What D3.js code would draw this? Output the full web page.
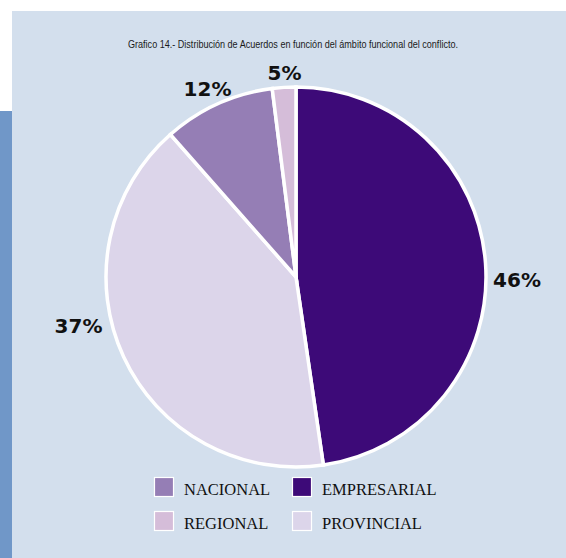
<!DOCTYPE html>
<html>
<head>
<meta charset="utf-8">
<script src="https://cdn.jsdelivr.net/npm/d3@7"></script>
<style>
  html, body { margin: 0; padding: 0; background: #ffffff; }
  svg { display: block; }
</style>
</head>
<body>
<svg id="chart" width="566" height="558"></svg>
<script>
// ---- data ----
const title = "Grafico 14.- Distribución de Acuerdos en función del ámbito funcional del conflicto.";
const categories = ["EMPRESARIAL", "PROVINCIAL", "NACIONAL", "REGIONAL"];
const values = [47.7, 40.8, 9.5, 2.0];          // slice sizes as drawn
const valueLabels = ["46%", "37%", "12%", "5%"]; // printed labels
const colors = ["#3d0a78", "#dcd5ea", "#957eb5", "#d5bdd9"];
const legendOrder = ["NACIONAL", "EMPRESARIAL", "REGIONAL", "PROVINCIAL"];

// ---- layout ----
const svg = d3.select("#chart");
const W = 566, H = 558;
const cx = 296, cy = 277, R = 190;

// panel + left strip
svg.append("rect").attr("x", 12).attr("y", 11).attr("width", W - 12).attr("height", H - 11).attr("fill", "#d3dfed");
svg.append("rect").attr("x", 0).attr("y", 111).attr("width", 12).attr("height", H - 111).attr("fill", "#7097c8");

// title
svg.append("text")
  .attr("x", 293).attr("y", 48)
  .attr("text-anchor", "middle")
  .attr("font-family", "'Liberation Sans Narrow', 'Arial Narrow', 'Liberation Sans', sans-serif")
  .attr("font-size", 10)
  .attr("textLength", 330).attr("lengthAdjust", "spacingAndGlyphs")
  .attr("fill", "#1a1a1a")
  .text(title);

const color = d3.scaleOrdinal().domain(categories).range(colors);
const pie = d3.pie().sort(null).value(d => d.v);
const arc = d3.arc().innerRadius(0).outerRadius(R);
const data = categories.map((c, i) => ({ c, v: values[i], label: valueLabels[i] }));
const arcs = pie(data);

const g = svg.append("g").attr("transform", `translate(${cx},${cy})`);
g.selectAll("path").data(arcs).join("path")
  .attr("d", arc)
  .attr("fill", d => color(d.data.c))
  .attr("stroke", "#ffffff")
  .attr("stroke-width", 3.5)
  .attr("stroke-linejoin", "miter");

// percentage labels (offsets relative to pie centre)
const labelOffsets = [[221, 10], [-217.5, 56], [-88.5, -181.5], [-11.5, -197]];
g.selectAll("text.pct").data(arcs).join("text")
  .attr("class", "pct")
  .attr("x", (d, i) => labelOffsets[i][0])
  .attr("y", (d, i) => labelOffsets[i][1])
  .attr("text-anchor", "middle")
  .attr("font-family", "'DejaVu Sans', sans-serif")
  .attr("font-weight", "bold")
  .attr("font-size", 20)
  .attr("fill", "#111111")
  .text(d => d.data.label);

// legend
const legendPos = [[154, 477, 184, 495], [292, 477, 322, 495], [154, 511, 184, 529], [292, 511, 322, 529]];
const lg = svg.append("g");
legendOrder.forEach((name, i) => {
  const [sx, sy, tx, ty] = legendPos[i];
  lg.append("rect").attr("x", sx + 0.5).attr("y", sy + 0.5).attr("width", 19).attr("height", 19)
    .attr("fill", color(name)).attr("stroke", "#ffffff").attr("stroke-width", 1.2);
  lg.append("text").attr("x", tx).attr("y", ty)
    .attr("font-family", "'Liberation Serif', 'Times New Roman', serif")
    .attr("font-size", 16.5)
    .attr("fill", "#111111")
    .text(name);
});
</script>
</body>
</html>
